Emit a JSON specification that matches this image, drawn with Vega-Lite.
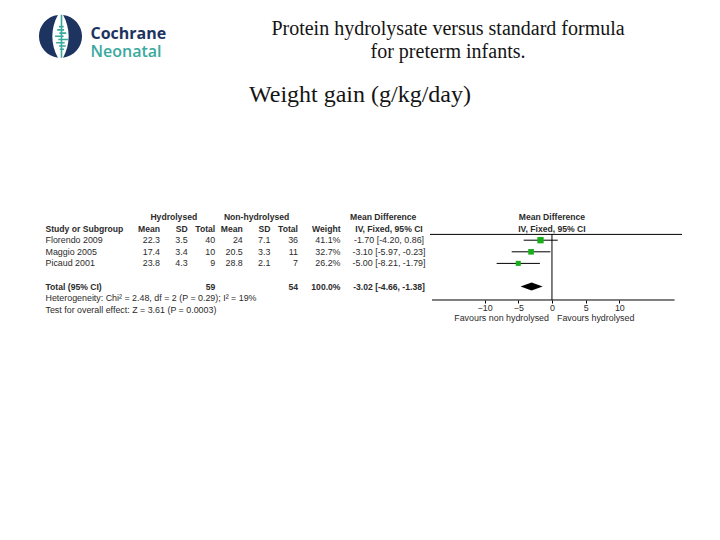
{
  "$schema": "https://vega.github.io/schema/vega-lite/v6.json",
  "width": 720,
  "height": 540,
  "padding": 0,
  "autosize": {"type": "none"},
  "background": "white",
  "config": {"view": {"stroke": null}, "text": {"font": "Liberation Sans", "color": "#2b2b2b"}},
  "datasets": {
    "cells": [
      {"row": "h1", "col": "sd1", "text": "Hydrolysed"},
      {"row": "h1", "col": "sd2", "text": "Non-hydrolysed"},
      {"row": "h1", "col": "md", "text": "Mean Difference"},
      {"row": "h2", "col": "study", "text": "Study or Subgroup"},
      {"row": "h2", "col": "m1", "text": "Mean"},
      {"row": "h2", "col": "sd1", "text": "SD"},
      {"row": "h2", "col": "n1", "text": "Total"},
      {"row": "h2", "col": "m2", "text": "Mean"},
      {"row": "h2", "col": "sd2", "text": "SD"},
      {"row": "h2", "col": "n2", "text": "Total"},
      {"row": "h2", "col": "w", "text": "Weight"},
      {"row": "h2", "col": "md", "text": "IV, Fixed, 95% CI"},
      {"row": "r1", "col": "study", "text": "Florendo 2009"},
      {"row": "r1", "col": "m1", "text": "22.3"},
      {"row": "r1", "col": "sd1", "text": "3.5"},
      {"row": "r1", "col": "n1", "text": "40"},
      {"row": "r1", "col": "m2", "text": "24"},
      {"row": "r1", "col": "sd2", "text": "7.1"},
      {"row": "r1", "col": "n2", "text": "36"},
      {"row": "r1", "col": "w", "text": "41.1%"},
      {"row": "r1", "col": "md", "text": "-1.70 [-4.20, 0.86]"},
      {"row": "r2", "col": "study", "text": "Maggio 2005"},
      {"row": "r2", "col": "m1", "text": "17.4"},
      {"row": "r2", "col": "sd1", "text": "3.4"},
      {"row": "r2", "col": "n1", "text": "10"},
      {"row": "r2", "col": "m2", "text": "20.5"},
      {"row": "r2", "col": "sd2", "text": "3.3"},
      {"row": "r2", "col": "n2", "text": "11"},
      {"row": "r2", "col": "w", "text": "32.7%"},
      {"row": "r2", "col": "md", "text": "-3.10 [-5.97, -0.23]"},
      {"row": "r3", "col": "study", "text": "Picaud 2001"},
      {"row": "r3", "col": "m1", "text": "23.8"},
      {"row": "r3", "col": "sd1", "text": "4.3"},
      {"row": "r3", "col": "n1", "text": "9"},
      {"row": "r3", "col": "m2", "text": "28.8"},
      {"row": "r3", "col": "sd2", "text": "2.1"},
      {"row": "r3", "col": "n2", "text": "7"},
      {"row": "r3", "col": "w", "text": "26.2%"},
      {"row": "r3", "col": "md", "text": "-5.00 [-8.21, -1.79]"},
      {"row": "total", "col": "study", "text": "Total (95% CI)"},
      {"row": "total", "col": "n1", "text": "59"},
      {"row": "total", "col": "n2", "text": "54"},
      {"row": "total", "col": "w", "text": "100.0%"},
      {"row": "total", "col": "md", "text": "-3.02 [-4.66, -1.38]"},
      {"row": "het", "col": "study", "text": "Heterogeneity: Chi² = 2.48, df = 2 (P = 0.29); I² = 19%"},
      {"row": "test", "col": "study", "text": "Test for overall effect: Z = 3.61 (P = 0.0003)"},
      {"row": "h1", "col": "forest", "text": "Mean Difference"},
      {"row": "h2", "col": "forest", "text": "IV, Fixed, 95% CI"}
    ],
    "forest": [
      {"row": "r1", "study": "Florendo 2009", "md": -1.70, "lo": -4.20, "hi": 0.86, "weight": 41.1},
      {"row": "r2", "study": "Maggio 2005", "md": -3.10, "lo": -5.97, "hi": -0.23, "weight": 32.7},
      {"row": "r3", "study": "Picaud 2001", "md": -5.00, "lo": -8.21, "hi": -1.79, "weight": 26.2}
    ],
    "pooled": [
      {"row": "total", "md": -3.02, "lo": -4.66, "hi": -1.38}
    ],
    "favours": [
      {"side": "non", "text": "Favours non hydrolysed"},
      {"side": "hyd", "text": "Favours hydrolysed"}
    ]
  },
  "layer": [
    {
      "data": {"name": "forest"},
      "mark": {"type": "rule", "color": "#000000", "strokeWidth": 1},
      "encoding": {
        "x": {"field": "lo", "type": "quantitative", "scale": {"domain": [-18.1, 19.3], "range": [430, 682], "nice": false, "zero": false}, "axis": {"orient": "bottom", "offset": -240, "values": [-10, -5, 0, 5, 10], "domain": false, "grid": false, "tickSize": 3, "tickColor": "#000000", "labelFont": "Liberation Sans", "labelFontSize": 8.9, "labelColor": "#2b2b2b", "labelPadding": 0, "title": null, "format": "d"}},
        "x2": {"field": "hi"},
        "y": {"field": "row", "type": "ordinal", "axis": null, "scale": {"type": "band", "domain": ["h1", "h2", "r1", "r2", "r3", "gap", "total", "het", "test"], "range": [211.2, 315.6], "paddingInner": 0, "paddingOuter": 0}}
      }
    },
    {
      "layer": [
        {
          "data": {"values": [{}]},
          "mark": {"type": "rule", "color": "#000000", "strokeWidth": 1},
          "encoding": {
            "x": {"datum": -18.1, "type": "quantitative", "axis": null, "scale": {"domain": [-18.1, 19.3], "range": [430, 682], "nice": false, "zero": false}},
            "x2": {"datum": 19.3},
            "y": {"datum": "r1", "type": "ordinal", "bandPosition": 0, "axis": null, "scale": {"type": "band", "domain": ["h1", "h2", "r1", "r2", "r3", "gap", "total", "het", "test"], "range": [211.2, 315.6], "paddingInner": 0, "paddingOuter": 0}}
          }
        },
        {
          "data": {"values": [{}]},
          "mark": {"type": "rule", "color": "#000000", "strokeWidth": 1},
          "encoding": {
            "x": {"datum": 0, "type": "quantitative", "axis": null},
            "y": {"datum": "r1", "type": "ordinal", "bandPosition": 0, "axis": null},
            "y2": {"datum": "het", "bandPosition": 0.655}
          }
        },
        {
          "data": {"values": [{}]},
          "mark": {"type": "rule", "color": "#000000", "strokeWidth": 1},
          "encoding": {
            "x": {"datum": -17.8, "type": "quantitative", "axis": null},
            "x2": {"datum": 18.2},
            "y": {"datum": "het", "type": "ordinal", "bandPosition": 0.655, "axis": null}
          }
        },
        {
          "data": {"name": "forest"},
          "mark": {"type": "point", "shape": "square", "filled": true, "color": "#1aae1a", "opacity": 1, "strokeWidth": 0},
          "encoding": {
            "x": {"field": "md", "type": "quantitative", "axis": null},
            "y": {"field": "row", "type": "ordinal", "axis": null},
            "size": {"field": "weight", "type": "quantitative", "legend": null, "scale": {"domain": [0, 41.1], "range": [0, 40]}}
          }
        },
        {
          "data": {"name": "pooled"},
          "mark": {"type": "point", "shape": "M-1,0L0,-0.36L1,0L0,0.36Z", "size": 488, "filled": true, "color": "#000000", "opacity": 1, "strokeWidth": 0},
          "encoding": {
            "x": {"field": "md", "type": "quantitative", "axis": null},
            "y": {"field": "row", "type": "ordinal", "axis": null}
          }
        },
        {
          "data": {"name": "cells"},
          "transform": [{"filter": {"field": "col", "equal": "forest"}}],
          "mark": {"type": "text", "align": "center", "fontWeight": "bold", "fontSize": 8.6},
          "encoding": {
            "x": {"datum": 0, "type": "quantitative", "axis": null},
            "y": {"field": "row", "type": "ordinal", "axis": null},
            "text": {"field": "text"}
          }
        },
        {
          "data": {"name": "favours"},
          "transform": [{"filter": {"field": "side", "equal": "non"}}],
          "mark": {"type": "text", "align": "right", "dx": -3, "dy": 2, "fontSize": 8.9},
          "encoding": {
            "x": {"datum": 0, "type": "quantitative", "axis": null},
            "y": {"datum": "test", "type": "ordinal", "bandPosition": 1, "axis": null},
            "text": {"field": "text"}
          }
        },
        {
          "data": {"name": "favours"},
          "transform": [{"filter": {"field": "side", "equal": "hyd"}}],
          "mark": {"type": "text", "align": "left", "dx": 5, "dy": 2, "fontSize": 8.9},
          "encoding": {
            "x": {"datum": 0, "type": "quantitative", "axis": null},
            "y": {"datum": "test", "type": "ordinal", "bandPosition": 1, "axis": null},
            "text": {"field": "text"}
          }
        }
      ]
    },
    {
      "data": {"values": [{"part": "ring"}]},
      "mark": {"type": "point", "shape": "M-0.12,-0.993A1,1,0,0,0,-0.12,0.993A2.03,2.03,0,0,1,-0.12,-0.993Z M0.12,-0.993A1,1,0,0,1,0.12,0.993A2.03,2.03,0,0,0,0.12,-0.993Z", "size": 1849, "filled": true, "color": "#1d3461", "opacity": 1, "strokeWidth": 0},
      "encoding": {
        "x": {"datum": "logo", "type": "nominal", "axis": null, "scale": {"type": "point", "domain": ["logo"], "range": [60.5, 60.5], "padding": 0}},
        "y": {"datum": "logo", "type": "nominal", "axis": null, "scale": {"type": "point", "domain": ["logo"], "range": [36.3, 36.3], "padding": 0}}
      }
    },
    {
      "data": {"values": [{"part": "spine"}]},
      "mark": {"type": "point", "shape": "M0,-1L0,1M-0.12,-0.45L0.1,-0.45M-0.2,-0.3L0.12,-0.3M-0.1,-0.15L0.22,-0.15M-0.3,0L0.1,0M-0.15,0.15L0.3,0.15M-0.25,0.3L0.15,0.3M-0.12,0.45L0.2,0.45M-0.08,0.6L0.12,0.6", "size": 1849, "filled": false, "color": "#3aa99e", "opacity": 1, "strokeWidth": 1.6},
      "encoding": {
        "x": {"datum": "logo", "type": "nominal", "axis": null, "scale": {"type": "point", "domain": ["logo"], "range": [61.5, 61.5], "padding": 0}},
        "y": {"datum": "logo", "type": "nominal", "axis": null, "scale": {"type": "point", "domain": ["logo"], "range": [36.3, 36.3], "padding": 0}}
      }
    },
    {
      "data": {"values": [{"line": "Cochrane"}]},
      "mark": {"type": "text", "font": "Open Sans", "fontWeight": "bold", "fontSize": 16, "align": "left", "baseline": "alphabetic", "color": "#1d3461"},
      "encoding": {
        "x": {"datum": "logo", "type": "nominal", "axis": null, "scale": {"type": "point", "domain": ["logo"], "range": [90.5, 90.5], "padding": 0}},
        "y": {"datum": "logo", "type": "nominal", "axis": null, "scale": {"type": "point", "domain": ["logo"], "range": [38.5, 38.5], "padding": 0}},
        "text": {"field": "line"}
      }
    },
    {
      "data": {"values": [{"line": "Neonatal"}]},
      "mark": {"type": "text", "font": "Open Sans", "fontWeight": 600, "fontSize": 16, "align": "left", "baseline": "alphabetic", "color": "#3aa99e"},
      "encoding": {
        "x": {"datum": "logo", "type": "nominal", "axis": null, "scale": {"type": "point", "domain": ["logo"], "range": [90.5, 90.5], "padding": 0}},
        "y": {"datum": "logo", "type": "nominal", "axis": null, "scale": {"type": "point", "domain": ["logo"], "range": [56.5, 56.5], "padding": 0}},
        "text": {"field": "line"}
      }
    },
    {
      "data": {"values": [{"line": "l1", "text": "Protein hydrolysate versus standard formula"}, {"line": "l2", "text": "for preterm infants."}]},
      "mark": {"type": "text", "font": "Liberation Serif", "fontSize": 20, "align": "center", "baseline": "middle", "color": "#141414"},
      "encoding": {
        "x": {"datum": "title", "type": "nominal", "axis": null, "scale": {"type": "point", "domain": ["title"], "range": [448, 448], "padding": 0}},
        "y": {"field": "line", "type": "nominal", "axis": null, "scale": {"type": "point", "domain": ["l1", "l2"], "range": [29, 52], "padding": 0}},
        "text": {"field": "text"}
      }
    },
    {
      "data": {"values": [{"text": "Weight gain (g/kg/day)"}]},
      "mark": {"type": "text", "font": "Liberation Serif", "fontSize": 24, "align": "center", "baseline": "middle", "color": "#141414"},
      "encoding": {
        "x": {"datum": "sub", "type": "nominal", "axis": null, "scale": {"type": "point", "domain": ["sub"], "range": [360, 360], "padding": 0}},
        "y": {"datum": "sub", "type": "nominal", "axis": null, "scale": {"type": "point", "domain": ["sub"], "range": [95, 95], "padding": 0}},
        "text": {"field": "text"}
      }
    },
    {
      "data": {"name": "cells"},
      "transform": [{"filter": {"and": [{"field": "col", "equal": "study"}, {"field": "row", "oneOf": ["h2", "total"]}]}}],
      "mark": {"type": "text", "align": "left", "fontWeight": "bold", "fontSize": 8.6},
      "encoding": {
        "x": {"field": "col", "type": "nominal", "axis": null, "scale": {"type": "point", "domain": ["study"], "range": [45.5, 45.5], "padding": 0}},
        "y": {"field": "row", "type": "ordinal", "axis": null, "scale": {"type": "band", "domain": ["h1", "h2", "r1", "r2", "r3", "gap", "total", "het", "test"], "range": [211.2, 315.6], "paddingInner": 0, "paddingOuter": 0}},
        "text": {"field": "text"}
      }
    },
    {
      "data": {"name": "cells"},
      "transform": [{"filter": {"and": [{"field": "col", "equal": "study"}, {"field": "row", "oneOf": ["r1", "r2", "r3", "het", "test"]}]}}],
      "mark": {"type": "text", "align": "left", "fontSize": 8.9},
      "encoding": {
        "x": {"field": "col", "type": "nominal", "axis": null, "scale": {"type": "point", "domain": ["study"], "range": [45.5, 45.5], "padding": 0}},
        "y": {"field": "row", "type": "ordinal", "axis": null, "scale": {"type": "band", "domain": ["h1", "h2", "r1", "r2", "r3", "gap", "total", "het", "test"], "range": [211.2, 315.6], "paddingInner": 0, "paddingOuter": 0}},
        "text": {"field": "text"}
      }
    },
    {
      "data": {"name": "cells"},
      "transform": [{"filter": {"and": [{"field": "col", "oneOf": ["m1", "sd1", "n1", "m2", "sd2", "n2"]}, {"field": "row", "oneOf": ["h2", "total"]}]}}],
      "mark": {"type": "text", "align": "right", "fontWeight": "bold", "fontSize": 8.6},
      "encoding": {
        "x": {"field": "col", "type": "nominal", "axis": null, "bandPosition": 1, "scale": {"type": "band", "domain": ["m1", "sd1", "n1", "m2", "sd2", "n2"], "range": [132.4, 298], "paddingInner": 0, "paddingOuter": 0}},
        "y": {"field": "row", "type": "ordinal", "axis": null, "scale": {"type": "band", "domain": ["h1", "h2", "r1", "r2", "r3", "gap", "total", "het", "test"], "range": [211.2, 315.6], "paddingInner": 0, "paddingOuter": 0}},
        "text": {"field": "text"}
      }
    },
    {
      "data": {"name": "cells"},
      "transform": [{"filter": {"and": [{"field": "col", "oneOf": ["m1", "sd1", "n1", "m2", "sd2", "n2"]}, {"field": "row", "oneOf": ["r1", "r2", "r3"]}]}}],
      "mark": {"type": "text", "align": "right", "fontSize": 8.9},
      "encoding": {
        "x": {"field": "col", "type": "nominal", "axis": null, "bandPosition": 1, "scale": {"type": "band", "domain": ["m1", "sd1", "n1", "m2", "sd2", "n2"], "range": [132.4, 298], "paddingInner": 0, "paddingOuter": 0}},
        "y": {"field": "row", "type": "ordinal", "axis": null, "scale": {"type": "band", "domain": ["h1", "h2", "r1", "r2", "r3", "gap", "total", "het", "test"], "range": [211.2, 315.6], "paddingInner": 0, "paddingOuter": 0}},
        "text": {"field": "text"}
      }
    },
    {
      "data": {"name": "cells"},
      "transform": [{"filter": {"and": [{"field": "col", "oneOf": ["sd1", "sd2"]}, {"field": "row", "equal": "h1"}]}}],
      "mark": {"type": "text", "align": "center", "fontWeight": "bold", "fontSize": 8.6},
      "encoding": {
        "x": {"field": "col", "type": "nominal", "axis": null, "bandPosition": 0.5, "scale": {"type": "band", "domain": ["m1", "sd1", "n1", "m2", "sd2", "n2"], "range": [132.4, 298], "paddingInner": 0, "paddingOuter": 0}},
        "y": {"field": "row", "type": "ordinal", "axis": null, "scale": {"type": "band", "domain": ["h1", "h2", "r1", "r2", "r3", "gap", "total", "het", "test"], "range": [211.2, 315.6], "paddingInner": 0, "paddingOuter": 0}},
        "text": {"field": "text"}
      }
    },
    {
      "data": {"name": "cells"},
      "transform": [{"filter": {"and": [{"field": "col", "equal": "w"}, {"field": "row", "oneOf": ["h2", "total"]}]}}],
      "mark": {"type": "text", "align": "right", "fontWeight": "bold", "fontSize": 8.6},
      "encoding": {
        "x": {"field": "col", "type": "nominal", "axis": null, "bandPosition": 1, "scale": {"type": "band", "domain": ["w", "md"], "range": [243.5, 437.5], "paddingInner": 0, "paddingOuter": 0}},
        "y": {"field": "row", "type": "ordinal", "axis": null, "scale": {"type": "band", "domain": ["h1", "h2", "r1", "r2", "r3", "gap", "total", "het", "test"], "range": [211.2, 315.6], "paddingInner": 0, "paddingOuter": 0}},
        "text": {"field": "text"}
      }
    },
    {
      "data": {"name": "cells"},
      "transform": [{"filter": {"and": [{"field": "col", "equal": "w"}, {"field": "row", "oneOf": ["r1", "r2", "r3"]}]}}],
      "mark": {"type": "text", "align": "right", "fontSize": 8.9},
      "encoding": {
        "x": {"field": "col", "type": "nominal", "axis": null, "bandPosition": 1, "scale": {"type": "band", "domain": ["w", "md"], "range": [243.5, 437.5], "paddingInner": 0, "paddingOuter": 0}},
        "y": {"field": "row", "type": "ordinal", "axis": null, "scale": {"type": "band", "domain": ["h1", "h2", "r1", "r2", "r3", "gap", "total", "het", "test"], "range": [211.2, 315.6], "paddingInner": 0, "paddingOuter": 0}},
        "text": {"field": "text"}
      }
    },
    {
      "data": {"name": "cells"},
      "transform": [{"filter": {"and": [{"field": "col", "equal": "md"}, {"field": "row", "oneOf": ["h2", "total"]}]}}],
      "mark": {"type": "text", "align": "center", "fontWeight": "bold", "fontSize": 8.6},
      "encoding": {
        "x": {"field": "col", "type": "nominal", "axis": null, "bandPosition": 0.5, "scale": {"type": "band", "domain": ["w", "md"], "range": [243.5, 437.5], "paddingInner": 0, "paddingOuter": 0}},
        "y": {"field": "row", "type": "ordinal", "axis": null, "scale": {"type": "band", "domain": ["h1", "h2", "r1", "r2", "r3", "gap", "total", "het", "test"], "range": [211.2, 315.6], "paddingInner": 0, "paddingOuter": 0}},
        "text": {"field": "text"}
      }
    },
    {
      "data": {"name": "cells"},
      "transform": [{"filter": {"and": [{"field": "col", "equal": "md"}, {"field": "row", "oneOf": ["r1", "r2", "r3"]}]}}],
      "mark": {"type": "text", "align": "center", "fontSize": 8.9},
      "encoding": {
        "x": {"field": "col", "type": "nominal", "axis": null, "bandPosition": 0.5, "scale": {"type": "band", "domain": ["w", "md"], "range": [243.5, 437.5], "paddingInner": 0, "paddingOuter": 0}},
        "y": {"field": "row", "type": "ordinal", "axis": null, "scale": {"type": "band", "domain": ["h1", "h2", "r1", "r2", "r3", "gap", "total", "het", "test"], "range": [211.2, 315.6], "paddingInner": 0, "paddingOuter": 0}},
        "text": {"field": "text"}
      }
    },
    {
      "data": {"name": "cells"},
      "transform": [{"filter": {"and": [{"field": "col", "equal": "md"}, {"field": "row", "equal": "h1"}]}}],
      "mark": {"type": "text", "align": "center", "fontWeight": "bold", "fontSize": 8.6},
      "encoding": {
        "x": {"field": "col", "type": "nominal", "axis": null, "bandPosition": 0.44, "scale": {"type": "band", "domain": ["w", "md"], "range": [243.5, 437.5], "paddingInner": 0, "paddingOuter": 0}},
        "y": {"field": "row", "type": "ordinal", "axis": null, "scale": {"type": "band", "domain": ["h1", "h2", "r1", "r2", "r3", "gap", "total", "het", "test"], "range": [211.2, 315.6], "paddingInner": 0, "paddingOuter": 0}},
        "text": {"field": "text"}
      }
    }
  ],
  "resolve": {"scale": {"x": "independent", "y": "independent", "size": "independent"}}
}
